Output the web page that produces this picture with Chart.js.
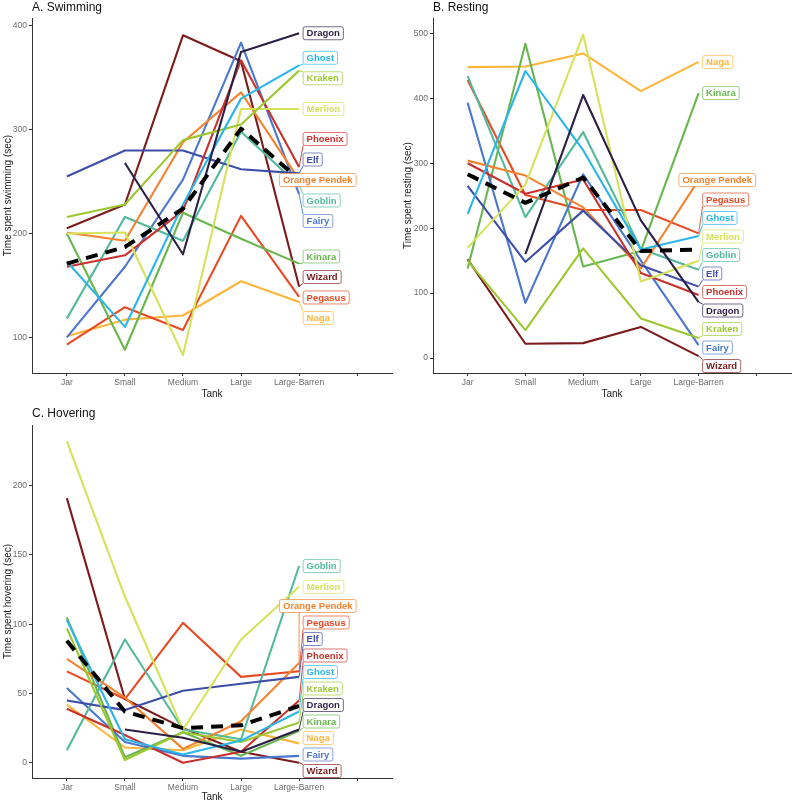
<!DOCTYPE html>
<html>
<head>
<meta charset="utf-8">
<script src="https://cdn.jsdelivr.net/npm/chart.js@4.4.1/dist/chart.umd.min.js"></script>
<style>
  body { margin: 0; background: #fff; width: 795px; height: 803px; position: relative; overflow: hidden; }
  canvas { position: absolute; }
</style>
</head>
<body>
<canvas id="swim" width="397" height="400" style="left:0;top:0"></canvas>
<canvas id="rest" width="395" height="400" style="left:400px;top:0"></canvas>
<canvas id="hover" width="397" height="403" style="left:0;top:400px"></canvas>
<script>
// categories on the x axis (last one is empty, room for the labels)
const tanks = ['Jar', 'Small', 'Medium', 'Large', 'Large-Barren', ''];

const fish = ['Dragon', 'Ghost', 'Kraken', 'Merlion', 'Phoenix', 'Elf', 'Orange Pendek',
              'Goblin', 'Fairy', 'Kinara', 'Wizard', 'Pegasus', 'Naga'];
const fishColours = ['#2c1f45', '#2bb5ea', '#9cc82f', '#d5e25a', '#c8312c', '#3e4ea8', '#f5822f',
                     '#53b99c', '#4b77cc', '#69b54f', '#7b1c1c', '#e84a24', '#fdb53a'];

// time spent swimming (sec), rows follow the fish list
const swimming = [
  [null, 268, 180, 375, 393],
  [173, 110, 228, 330, 362],
  [216, 228, 290, 305, 357],
  [200, 201, 83, 320, 320],
  [168, 179, 222, 367, 264],
  [255, 280, 280, 262, 258],
  [201, 193, 288, 336, 252],
  [118, 216, 193, 298, 246],
  [100, 168, 252, 384, 238],
  [200, 88, 220, 195, 171],
  [205, 228, 391, 366, 149],
  [93, 129, 107, 217, 139],
  [101, 117, 121, 154, 134]
];
const swimMean = [171, 187, 224, 301, 252];
const swimTicks = [100, 200, 300, 400];

// time spent resting (sec)
const resting = [
  [null, 160, 405, 212, 86],
  [222, 442, 320, 167, 188],
  [150, 43, 169, 61, 31],
  [170, 267, 498, 118, 150],
  [300, 253, 275, 131, 97],
  [265, 148, 227, 143, 110],
  [304, 281, 232, 138, 274],
  [434, 217, 348, 168, 136],
  [393, 85, 283, 150, 20],
  [138, 484, 141, 165, 408],
  [152, 22, 23, 48, 3],
  [428, 251, 228, 228, 192],
  [448, 449, 469, 411, 456]
];
const restMean = [283, 239, 278, 165, 167];
const restTicks = [0, 100, 200, 300, 400, 500];

// time spent hovering (sec)
const hovering = [
  [null, 24, 18, 8, 24],
  [103, 17, 6, 16, 37],
  [97, 2, 22, 15, 29],
  [232, 120, 24, 89, 127],
  [39, 20, 0, 8, 45],
  [45, 38, 52, 57, 62],
  [75, 47, 10, 30, 72],
  [9, 89, 24, 17, 142],
  [54, 15, 5, 3, 5],
  [105, 4, 22, 5, 23],
  [191, 46, 25, 8, 0],
  [66, 46, 101, 62, 66],
  [42, 11, 9, 24, 14]
];
const hoverMean = [88, 37, 25, 27, 41];
const hoverTicks = [0, 50, 100, 150, 200];

const FONT = '"Liberation Sans", Arial, sans-serif';
Chart.defaults.font.family = FONT;

// panel title, top left
const panelTitle = {
  id: 'panelTitle',
  beforeDraw(chart, args, opts) {
    const ctx = chart.ctx;
    ctx.save();
    ctx.font = '12px ' + FONT;
    ctx.fillStyle = '#111';
    ctx.textAlign = 'left';
    ctx.textBaseline = 'alphabetic';
    ctx.fillText(opts.text, chart.chartArea.left, opts.y);
    ctx.restore();
  }
};

// boxed fish names at the right end of each line, pushed apart like ggrepel
const endLabels = {
  id: 'endLabels',
  afterDatasetsDraw(chart, args, opts) {
    const ctx = chart.ctx;
    const area = chart.chartArea;
    ctx.save();
    ctx.font = 'bold 9.5px ' + FONT;
    let items = [];
    chart.data.datasets.forEach(function (ds, i) {
      if (!ds.endLabel) return;
      const pt = chart.getDatasetMeta(i).data[4];
      items.push({ text: ds.label, colour: ds.borderColor, px: pt.x, py: pt.y, y: pt.y,
                   w: ctx.measureText(ds.label).width + 7 });
    });
    items.sort((a, b) => a.py - b.py);
    const lo = area.top + 7, hi = area.bottom - 7;
    for (let k = 0; k < 500; k++) {
      for (let i = 1; i < items.length; i++) {
        const d = items[i].y - items[i - 1].y;
        if (d < opts.gap) {
          const s = (opts.gap - d) / 2;
          items[i - 1].y -= s;
          items[i].y += s;
        }
      }
      items.forEach(it => { it.y = Math.min(hi, Math.max(lo, it.y)); });
    }
    items.forEach(function (it) {
      let left = it.px + 4;
      if (left + it.w > it.px + 57) left = it.px + 57 - it.w;
      const top = it.y - 6.5, bottom = it.y + 6.5;
      const nx = Math.min(Math.max(it.px, left), left + it.w);
      const ny = Math.min(Math.max(it.py, top), bottom);
      if (Math.hypot(nx - it.px, ny - it.py) > 4) {
        ctx.strokeStyle = it.colour;
        ctx.lineWidth = 0.9;
        ctx.beginPath();
        ctx.moveTo(it.px, it.py);
        ctx.lineTo(nx, ny);
        ctx.stroke();
      }
      ctx.beginPath();
      ctx.roundRect(left, top, it.w, 13, 2);
      ctx.fillStyle = '#fff';
      ctx.fill();
      ctx.strokeStyle = it.colour + 'aa';
      ctx.lineWidth = 1;
      ctx.stroke();
      ctx.fillStyle = it.colour;
      ctx.textAlign = 'left';
      ctx.textBaseline = 'middle';
      ctx.fillText(it.text, left + 3.5, it.y + 0.5);
    });
    ctx.restore();
  }
};

function toPoints(values) {
  return values.map((v, i) => ({ x: i, y: v }));
}

function makePanel(id, title, titleY, yTitle, rows, mean, ticks, yMin, yMax, box, gap) {
  let datasets = [{
    label: 'Mean', data: toPoints(mean), borderColor: '#000', borderWidth: 4,
    borderDash: [12, 8], endLabel: false
  }];
  rows.forEach(function (r, i) {
    datasets.push({ label: fish[i], data: toPoints(r), borderColor: fishColours[i],
                    borderWidth: 2.1, endLabel: true });
  });
  datasets.forEach(d => { d.pointRadius = 0; d.tension = 0; d.borderJoinStyle = 'round'; d.fill = false; });

  new Chart(document.getElementById(id), {
    type: 'line',
    data: { datasets: datasets },
    options: {
      responsive: false,
      animation: false,
      layout: { padding: { top: box.top, right: box.right, left: 0, bottom: 0 } },
      plugins: {
        legend: { display: false },
        tooltip: { enabled: false },
        panelTitle: { text: title, y: titleY },
        endLabels: { gap: gap }
      },
      scales: {
        x: {
          type: 'linear', min: -0.6, max: 5.6,
          afterBuildTicks: s => { s.ticks = tanks.map((t, i) => ({ value: i })); },
          afterFit: s => { s.height = box.xh; },
          ticks: { callback: v => tanks[v], autoSkip: false, maxRotation: 0, padding: 2,
                   color: '#6a6a6a', font: { size: 8.5 } },
          grid: { display: true, drawOnChartArea: false, drawTicks: true, tickLength: 3, color: '#333' },
          border: { display: true, color: '#333', width: 1 },
          title: { display: true, text: 'Tank', color: '#222', font: { size: 10 }, padding: 0 }
        },
        y: {
          type: 'linear', min: yMin, max: yMax,
          afterBuildTicks: s => { s.ticks = ticks.map(v => ({ value: v })); },
          afterFit: s => { s.width = box.yw; },
          ticks: { padding: 2, color: '#6a6a6a', font: { size: 8.5 } },
          grid: { display: true, drawOnChartArea: false, drawTicks: true, tickLength: 3, color: '#333' },
          border: { display: true, color: '#333', width: 1 },
          title: { display: true, text: yTitle, color: '#222', font: { size: 10 }, padding: 2 }
        }
      }
    },
    plugins: [panelTitle, endLabels]
  });
}

makePanel('swim', 'A. Swimming', 11, 'Time spent swimming (sec)', swimming, swimMean, swimTicks,
          65.6, 407.7, { top: 18, right: 5, xh: 27, yw: 32 }, 20.5);
makePanel('rest', 'B. Resting', 11, 'Time spent resting (sec)', resting, restMean, restTicks,
          -23, 523.6, { top: 18, right: 4, xh: 27, yw: 33 }, 18.5);
makePanel('hover', 'C. Hovering', 17, 'Time spent hovering (sec)', hovering, hoverMean, hoverTicks,
          -11, 243.8, { top: 25, right: 5, xh: 25, yw: 32 }, 16.5);
</script>
</body>
</html>
